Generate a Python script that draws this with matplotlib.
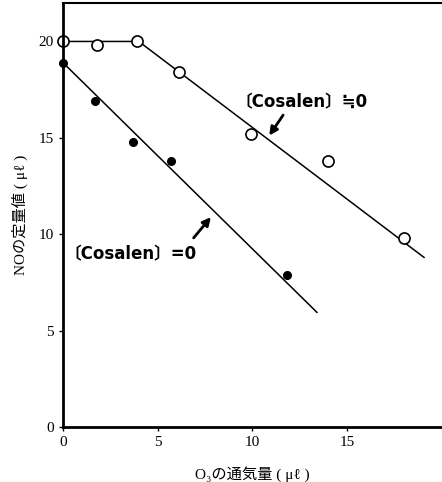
import numpy as np
import matplotlib
matplotlib.use("Agg")
import matplotlib.pyplot as plt

plt.rcParams['font.family'] = ['Liberation Serif', 'Noto Sans CJK JP']

# open circles: [Cosalen] != 0
x_open = [0.0, 1.8, 3.9, 6.1, 9.9, 14.0, 18.0]
y_open = [20.0, 19.8, 20.0, 18.4, 15.2, 13.8, 9.8]
# filled circles: [Cosalen] = 0
x_fill = [0.0, 1.7, 3.7, 5.7, 11.8]
y_fill = [18.9, 16.9, 14.8, 13.8, 7.9]

# fitted lines
line_open_x = [0.0, 4.0, 19.05]
line_open_y = [20.0, 20.0, 8.8]
line_fill_x = [0.0, 13.4]
line_fill_y = [18.9, 5.95]

xticks = [0, 5, 10, 15]
yticks = [0, 5, 10, 15, 20]

fig = plt.figure(figsize=(4.42, 4.82), dpi=100)
ax = fig.add_axes([0.1425, 0.114, 0.8575, 0.88])

ax.plot(line_open_x, line_open_y, color='black', lw=1.1)
ax.plot(line_fill_x, line_fill_y, color='black', lw=1.1)
ax.plot(x_open, y_open, 'o', ms=8, mfc='white', mec='black', mew=1.2, clip_on=False)
ax.plot(x_fill, y_fill, 'o', ms=5.5, color='black', clip_on=False)

ax.set_xlim(0, 20)
ax.set_ylim(0, 22)
ax.set_xticks(xticks)
ax.set_yticks(yticks)
ax.tick_params(labelsize=11, length=3, width=1)

ax.spines['right'].set_visible(False)
ax.spines['left'].set_linewidth(2)
ax.spines['bottom'].set_linewidth(2)
ax.spines['top'].set_linewidth(1.5)

ax.set_xlabel('O₃の通気量 ( μℓ )', fontsize=11, labelpad=12)
ax.set_ylabel('NOの定量値 ( μℓ )', fontsize=11, labelpad=8)

ax.text(9.1, 16.6, '〔Cosalen〕≒0', fontsize=12, fontweight='bold',
        family=['DejaVu Sans', 'Noto Sans CJK JP'])
ax.annotate('', xy=(10.8, 15.0), xytext=(11.7, 16.3),
            arrowprops=dict(arrowstyle='-|>', color='black', lw=2, mutation_scale=12))
ax.text(0.1, 8.7, '〔Cosalen〕=0', fontsize=12, fontweight='bold',
        family=['DejaVu Sans', 'Noto Sans CJK JP'])
ax.annotate('', xy=(7.9, 11.0), xytext=(6.8, 9.7),
            arrowprops=dict(arrowstyle='-|>', color='black', lw=2, mutation_scale=12))

fig.savefig('out.png', dpi=100)
